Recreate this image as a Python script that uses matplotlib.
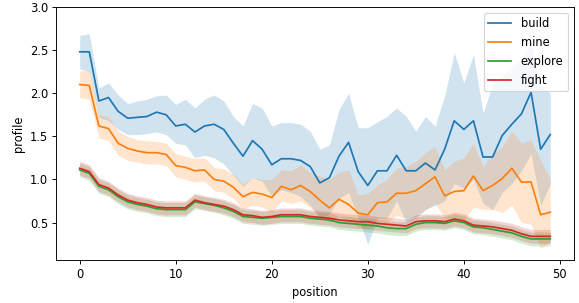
import numpy as np
import matplotlib
matplotlib.use("Agg")
import matplotlib.pyplot as plt

position = np.arange(50)

build = [2.48, 2.48, 1.91, 1.95, 1.79, 1.71, 1.72, 1.73, 1.78, 1.75,
         1.62, 1.64, 1.55, 1.62, 1.64, 1.58, 1.42, 1.27, 1.45, 1.35,
         1.17, 1.24, 1.24, 1.22, 1.15, 0.96, 1.02, 1.27, 1.43, 1.09,
         0.93, 1.10, 1.10, 1.28, 1.10, 1.10, 1.19, 1.11, 1.35, 1.68,
         1.58, 1.68, 1.26, 1.26, 1.51, 1.64, 1.76, 2.01, 1.35, 1.52]
build_hi = [2.67, 2.69, 2.06, 2.12, 1.98, 1.88, 1.91, 1.93, 1.97, 1.98,
            1.87, 1.93, 1.83, 1.93, 1.98, 1.91, 1.73, 1.62, 1.88, 1.83,
            1.62, 1.66, 1.66, 1.64, 1.56, 1.35, 1.40, 1.81, 2.00, 1.60,
            1.60, 1.67, 1.73, 1.83, 1.73, 1.56, 1.73, 1.62, 1.97, 2.47,
            2.12, 2.45, 1.77, 2.10, 2.20, 2.30, 2.40, 2.60, 2.07, 2.00]
build_lo = [2.28, 2.25, 1.72, 1.68, 1.58, 1.52, 1.52, 1.53, 1.55, 1.52,
            1.42, 1.40, 1.25, 1.28, 1.25, 1.18, 1.05, 0.92, 1.02, 0.98,
            0.80, 0.88, 0.85, 0.80, 0.70, 0.55, 0.60, 0.78, 0.85, 0.55,
            0.25, 0.55, 0.55, 0.75, 0.50, 0.55, 0.65, 0.70, 0.75, 0.95,
            0.90, 1.00, 0.72, 0.65, 0.85, 0.95, 1.10, 1.30, 0.70, 0.95]

mine = [2.10, 2.09, 1.62, 1.59, 1.42, 1.36, 1.33, 1.31, 1.31, 1.29,
        1.16, 1.14, 1.10, 1.11, 1.00, 0.98, 0.91, 0.80, 0.85, 0.83,
        0.79, 0.92, 0.88, 0.93, 0.86, 0.76, 0.67, 0.77, 0.71, 0.61,
        0.59, 0.73, 0.74, 0.84, 0.84, 0.87, 0.95, 1.03, 0.81, 0.86,
        0.87, 1.04, 0.87, 0.93, 1.01, 1.13, 0.97, 0.97, 0.59, 0.62]
mine_hi = [2.26, 2.26, 1.75, 1.73, 1.56, 1.50, 1.46, 1.45, 1.44, 1.42,
           1.30, 1.27, 1.24, 1.25, 1.14, 1.12, 1.06, 0.95, 1.02, 1.00,
           1.00, 1.11, 1.10, 1.17, 1.08, 1.04, 1.00, 1.08, 1.11, 0.82,
           0.84, 0.94, 1.00, 1.13, 1.15, 1.21, 1.31, 1.38, 1.11, 1.21,
           1.25, 1.42, 1.15, 1.29, 1.38, 1.56, 1.42, 1.46, 1.22, 1.00]
mine_lo = [1.95, 1.93, 1.48, 1.45, 1.28, 1.22, 1.20, 1.18, 1.18, 1.16,
           1.03, 1.00, 0.97, 0.98, 0.87, 0.85, 0.78, 0.66, 0.70, 0.68,
           0.62, 0.75, 0.72, 0.75, 0.68, 0.58, 0.50, 0.58, 0.52, 0.45,
           0.42, 0.52, 0.50, 0.58, 0.55, 0.57, 0.65, 0.72, 0.55, 0.55,
           0.52, 0.68, 0.65, 0.65, 0.62, 0.70, 0.50, 0.48, 0.20, 0.28]

explore = [1.11, 1.07, 0.92, 0.88, 0.80, 0.74, 0.71, 0.69, 0.66, 0.65,
           0.65, 0.65, 0.74, 0.72, 0.70, 0.67, 0.63, 0.57, 0.56, 0.55,
           0.56, 0.57, 0.57, 0.57, 0.55, 0.54, 0.53, 0.50, 0.49, 0.48,
           0.47, 0.46, 0.44, 0.43, 0.43, 0.48, 0.50, 0.50, 0.49, 0.52,
           0.50, 0.45, 0.44, 0.42, 0.40, 0.38, 0.34, 0.31, 0.31, 0.31]
explore_hi = [1.19, 1.15, 1.00, 0.96, 0.88, 0.82, 0.79, 0.77, 0.74, 0.73,
              0.73, 0.73, 0.82, 0.80, 0.78, 0.75, 0.71, 0.65, 0.64, 0.63,
              0.64, 0.65, 0.65, 0.65, 0.63, 0.62, 0.61, 0.58, 0.57, 0.56,
              0.55, 0.54, 0.52, 0.51, 0.51, 0.56, 0.58, 0.58, 0.57, 0.60,
              0.58, 0.53, 0.52, 0.50, 0.48, 0.46, 0.42, 0.39, 0.39, 0.39]
explore_lo = [1.03, 0.99, 0.84, 0.80, 0.72, 0.66, 0.63, 0.61, 0.58, 0.57,
              0.57, 0.57, 0.66, 0.64, 0.62, 0.59, 0.55, 0.49, 0.48, 0.47,
              0.48, 0.49, 0.49, 0.49, 0.47, 0.46, 0.45, 0.42, 0.41, 0.40,
              0.39, 0.38, 0.36, 0.35, 0.35, 0.40, 0.42, 0.42, 0.41, 0.44,
              0.42, 0.37, 0.36, 0.34, 0.32, 0.30, 0.26, 0.23, 0.23, 0.23]

fight = [1.13, 1.09, 0.94, 0.90, 0.82, 0.76, 0.73, 0.71, 0.68, 0.67,
         0.67, 0.67, 0.76, 0.73, 0.71, 0.69, 0.65, 0.59, 0.58, 0.56,
         0.57, 0.59, 0.59, 0.59, 0.57, 0.56, 0.55, 0.53, 0.52, 0.51,
         0.51, 0.49, 0.48, 0.47, 0.46, 0.51, 0.52, 0.52, 0.51, 0.54,
         0.52, 0.47, 0.46, 0.45, 0.43, 0.41, 0.37, 0.34, 0.34, 0.34]
fight_hi = [1.21, 1.17, 1.02, 0.98, 0.90, 0.84, 0.81, 0.79, 0.76, 0.75,
            0.75, 0.75, 0.84, 0.81, 0.79, 0.77, 0.73, 0.67, 0.66, 0.64,
            0.65, 0.67, 0.67, 0.67, 0.65, 0.64, 0.63, 0.61, 0.60, 0.59,
            0.59, 0.57, 0.56, 0.55, 0.54, 0.59, 0.60, 0.60, 0.59, 0.62,
            0.60, 0.55, 0.54, 0.53, 0.51, 0.49, 0.45, 0.42, 0.42, 0.42]
fight_lo = [1.05, 1.01, 0.86, 0.82, 0.74, 0.68, 0.65, 0.63, 0.60, 0.59,
            0.59, 0.59, 0.68, 0.65, 0.63, 0.61, 0.57, 0.51, 0.50, 0.48,
            0.49, 0.51, 0.51, 0.51, 0.49, 0.48, 0.47, 0.45, 0.44, 0.43,
            0.43, 0.41, 0.40, 0.39, 0.38, 0.43, 0.44, 0.44, 0.43, 0.46,
            0.44, 0.39, 0.38, 0.37, 0.35, 0.33, 0.29, 0.26, 0.26, 0.26]

series = [("build", build, build_lo, build_hi),
          ("mine", mine, mine_lo, mine_hi),
          ("explore", explore, explore_lo, explore_hi),
          ("fight", fight, fight_lo, fight_hi)]

# the reference looks like a default-size plot shrunk down, so render at a low dpi
dpi = 83
fig = plt.figure(figsize=(579 / dpi, 303 / dpi), dpi=dpi)
ax = fig.add_axes([0.097, 0.142, 0.894, 0.835])

for i, (name, mid, lo, hi) in enumerate(series):
    c = "C%d" % i
    ax.fill_between(position, lo, hi, color=c, alpha=0.2, linewidth=0)
    ax.plot(position, mid, color=c, label=name, linewidth=1.5)

ax.set_ylim(0.066, 3.0)
ax.set_xlabel("position")
ax.set_ylabel("profile")
ax.legend(loc="upper right")

fig.savefig("out.png", dpi=dpi)
